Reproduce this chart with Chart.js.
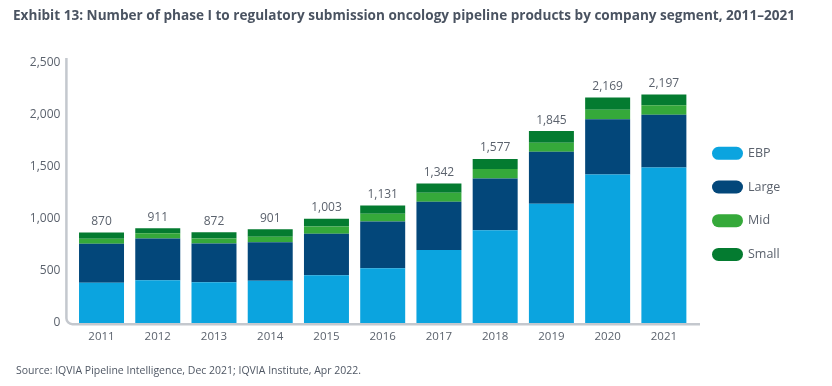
<!DOCTYPE html>
<html>
<head>
<meta charset="utf-8">
<script src="https://cdn.jsdelivr.net/npm/chart.js@4/dist/chart.umd.min.js"></script>
<style>
  html, body { margin: 0; padding: 0; background: #fff; }
  #wrap { position: relative; width: 832px; height: 386px; overflow: hidden; font-family: 'Open Sans', sans-serif; }
  #myChart { position: absolute; left: 0; top: 0; }
  #title { position: absolute; left: 13px; top: 6px; font-size: 13.5px; line-height: 18px; font-weight: 700; color: #4a5361; white-space: nowrap; transform-origin: 0 0; }
  #source { position: absolute; left: 16px; top: 362px; font-size: 11px; line-height: 15px; color: #4f5764; white-space: nowrap; transform-origin: 0 0; }
</style>
</head>
<body>
<div id="wrap">
  <canvas id="myChart" width="832" height="386"></canvas>
  <div id="title">Exhibit 13: Number of phase I to regulatory submission oncology pipeline products by company segment, 2011–2021</div>
  <div id="source">Source: IQVIA Pipeline Intelligence, Dec 2021; IQVIA Institute, Apr 2022.</div>
</div>
<script>
// data (segments per year)
const years = ['2011', '2012', '2013', '2014', '2015', '2016', '2017', '2018', '2019', '2020', '2021'];
const ebp   = [387, 410, 393, 406, 460, 527, 701, 891, 1146, 1427, 1496];
const large = [375, 403, 371, 371, 398, 449, 466, 499, 501, 533, 507];
const mid   = [49, 49, 49, 53, 71, 75, 85, 90, 85, 90, 91];
const small = [59, 49, 59, 71, 74, 80, 90, 97, 113, 119, 103];
const yTicks = [0, 500, 1000, 1500, 2000, 2500];

const textGray = '#5b626d';
const fontName = "'Open Sans', sans-serif";

// squeeze the title and source line to the width they have in the picture
function fitWidth(id, w) {
    const el = document.getElementById(id);
    const real = el.getBoundingClientRect().width;
    el.style.transform = 'scaleX(' + (w / real) + ')';
}
fitWidth('title', 782);
fitWidth('source', 345);

// grey axis lines with the rounded corner bottom left
const axisLines = {
    id: 'axisLines',
    beforeDatasetsDraw(chart) {
        const a = chart.chartArea;
        const ctx = chart.ctx;
        const x0 = a.left - 7;
        const y0 = a.bottom + 1.2;
        ctx.save();
        ctx.strokeStyle = '#c4c8ce';
        ctx.lineWidth = 2.5;
        ctx.beginPath();
        ctx.moveTo(x0, a.top - 5);
        ctx.lineTo(x0, y0 - 6);
        ctx.arcTo(x0, y0, x0 + 6, y0, 6);
        ctx.lineTo(a.right + 8, y0);
        ctx.stroke();
        ctx.restore();
    }
};

// totals above each bar
const totalLabels = {
    id: 'totalLabels',
    afterDatasetsDraw(chart) {
        const ctx = chart.ctx;
        const top = chart.getDatasetMeta(chart.data.datasets.length - 1);
        ctx.save();
        ctx.fillStyle = textGray;
        ctx.font = '12px ' + fontName;
        ctx.textAlign = 'center';
        ctx.textBaseline = 'middle';
        years.forEach((y, i) => {
            const total = ebp[i] + large[i] + mid[i] + small[i];
            const bar = top.data[i];
            ctx.fillText(total.toLocaleString('en-US'), bar.x, bar.y - 11);
        });
        ctx.restore();
    }
};

// legend on the right with pill shaped keys
const pillLegend = {
    id: 'pillLegend',
    afterDraw(chart) {
        const ctx = chart.ctx;
        ctx.save();
        ctx.font = '12.5px ' + fontName;
        ctx.textBaseline = 'middle';
        chart.data.datasets.forEach((ds, i) => {
            const cy = 153.3 + i * 33.7;
            ctx.fillStyle = ds.backgroundColor;
            ctx.beginPath();
            ctx.roundRect(712, cy - 6.5, 31, 13, 6.5);
            ctx.fill();
            ctx.fillStyle = textGray;
            ctx.fillText(ds.label, 748, cy);
        });
        ctx.restore();
    }
};

const ctx = document.getElementById('myChart');
new Chart(ctx, {
    type: 'bar',
    data: {
        labels: years,
        datasets: [
            { label: 'EBP', data: ebp, backgroundColor: '#0ba4df' },
            { label: 'Large', data: large, backgroundColor: '#03477a' },
            { label: 'Mid', data: mid, backgroundColor: '#35a93a' },
            { label: 'Small', data: small, backgroundColor: '#047b30' }
        ]
    },
    options: {
        responsive: false,
        animation: false,
        devicePixelRatio: 1,
        barPercentage: 0.8,
        categoryPercentage: 1.0,
        layout: { padding: { top: 63, right: 140, bottom: 0, left: 0 } },
        plugins: {
            legend: { display: false },
            tooltip: { enabled: false }
        },
        scales: {
            x: {
                stacked: true,
                grid: { display: false, drawTicks: false },
                border: { display: false },
                ticks: { color: textGray, font: { family: fontName, size: 11.5 }, padding: 7 },
                afterFit: s => { s.height = 63; }
            },
            y: {
                stacked: true,
                min: 0,
                max: 2500,
                grid: { display: false, drawTicks: false },
                border: { display: false },
                afterBuildTicks: s => { s.ticks = yTicks.map(v => ({ value: v })); },
                ticks: {
                    color: textGray,
                    font: { family: fontName, size: 12 },
                    padding: 13,
                    callback: v => v.toLocaleString('en-US')
                },
                afterFit: s => { s.width = 73.4; }
            }
        }
    },
    plugins: [axisLines, totalLabels, pillLegend]
});
</script>
</body>
</html>
